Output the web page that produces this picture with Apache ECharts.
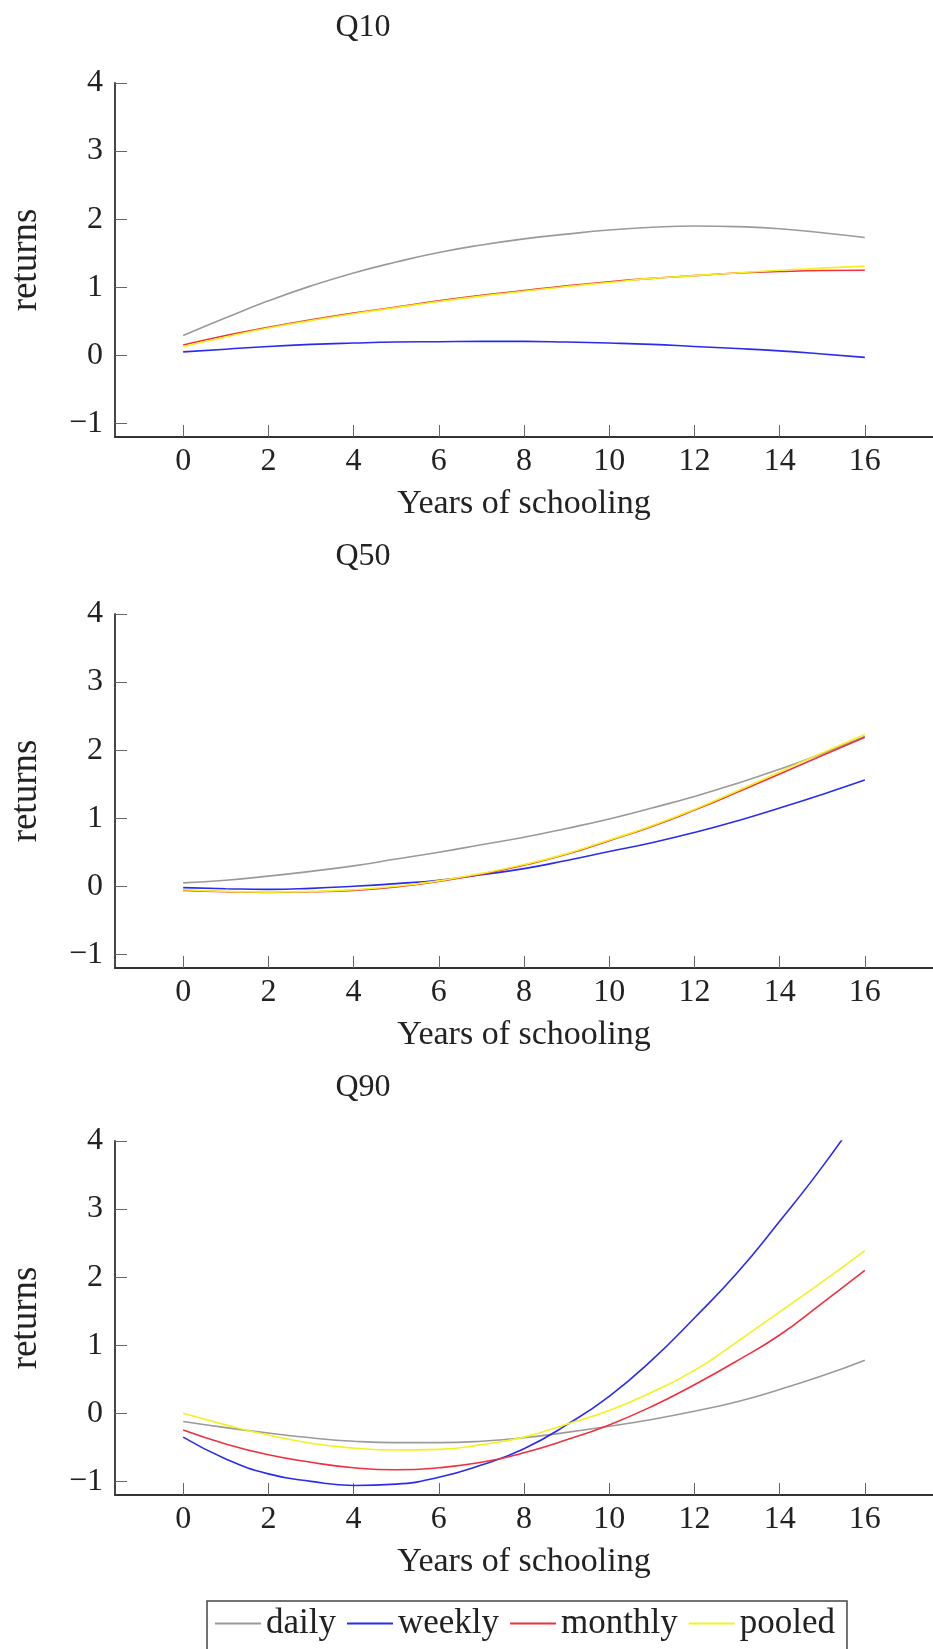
<!DOCTYPE html>
<html>
<head>
<meta charset="utf-8">
<script src="https://cdn.jsdelivr.net/npm/echarts@6/dist/echarts.min.js"></script>
<style>
  html, body { margin: 0; padding: 0; background: #fff; }
  #main { width: 933px; height: 1649px; }
</style>
</head>
<body>
<div id="main"></div>
<script>
var serif = 'Liberation Serif';

/* x values and ticks */
var years = [0, 1, 2, 3, 4, 5, 6, 7, 8, 9, 10, 11, 12, 13, 14, 15, 16];
var xTicks = [0, 2, 4, 6, 8, 10, 12, 14, 16];
var yTicks = [-1, 0, 1, 2, 3, 4];
var seriesNames = ['daily', 'weekly', 'monthly', 'pooled'];
var panelTitles = ['Q10', 'Q50', 'Q90'];

/* Q10 */
var daily10 = [0.29, 0.55, 0.80, 1.02, 1.21, 1.37, 1.51, 1.62, 1.71, 1.78, 1.84, 1.88, 1.90, 1.89, 1.86, 1.80, 1.73];
var weekly10 = [0.05, 0.09, 0.13, 0.16, 0.18, 0.195, 0.20, 0.205, 0.205, 0.195, 0.18, 0.16, 0.13, 0.10, 0.065, 0.02, -0.03];
var monthly10 = [0.15, 0.29, 0.41, 0.52, 0.62, 0.71, 0.80, 0.88, 0.95, 1.02, 1.08, 1.13, 1.17, 1.21, 1.23, 1.245, 1.25];
var pooled10 = [0.13, 0.27, 0.40, 0.51, 0.61, 0.70, 0.79, 0.87, 0.94, 1.01, 1.07, 1.13, 1.17, 1.21, 1.25, 1.28, 1.31];

/* Q50 */
var daily50 = [0.05, 0.09, 0.15, 0.22, 0.30, 0.40, 0.50, 0.61, 0.72, 0.85, 0.99, 1.15, 1.32, 1.51, 1.72, 1.95, 2.20];
var weekly50 = [-0.02, -0.035, -0.045, -0.03, 0.0, 0.04, 0.09, 0.17, 0.26, 0.38, 0.51, 0.64, 0.79, 0.96, 1.15, 1.35, 1.56];
var monthly50 = [-0.06, -0.08, -0.09, -0.08, -0.06, -0.01, 0.07, 0.18, 0.31, 0.47, 0.67, 0.88, 1.12, 1.38, 1.65, 1.92, 2.19];
var pooled50 = [-0.05, -0.075, -0.085, -0.075, -0.05, 0.0, 0.08, 0.19, 0.32, 0.48, 0.68, 0.89, 1.13, 1.40, 1.68, 1.96, 2.23];

/* Q90 */
var daily90 = [-0.12, -0.21, -0.29, -0.36, -0.41, -0.43, -0.43, -0.41, -0.36, -0.28, -0.19, -0.09, 0.03, 0.17, 0.35, 0.55, 0.78];
var weekly90 = [-0.35, -0.67, -0.89, -1.00, -1.06, -1.04, -0.94, -0.76, -0.52, -0.17, 0.25, 0.78, 1.40, 2.06, 2.82, 3.62, 4.50];
var monthly90 = [-0.245, -0.45, -0.61, -0.72, -0.80, -0.83, -0.80, -0.72, -0.58, -0.39, -0.17, 0.10, 0.42, 0.77, 1.15, 1.62, 2.10];
var pooled90 = [0.0, -0.17, -0.32, -0.44, -0.51, -0.54, -0.53, -0.46, -0.35, -0.16, 0.04, 0.31, 0.63, 1.05, 1.49, 1.93, 2.39];

var panels = [
  [daily10, weekly10, monthly10, pooled10],
  [daily50, weekly50, monthly50, pooled50],
  [daily90, weekly90, monthly90, pooled90]
];

var lineColors = { daily: '#9a9a9a', weekly: '#2b2bf0', monthly: '#f0303c', pooled: '#f2f21e' };

// layout of the three plots (px)
var gridTops = [83, 614, 1141];
var gridHeight = 354;
var titleTops = [7, 536, 1067];

var grids = [], xAxes = [], yAxes = [], titles = [], series = [];

for (var g = 0; g < 3; g++) {
  grids.push({ left: 111, top: gridTops[g], width: 833, height: gridHeight });
  titles.push({
    text: panelTitles[g], left: 358, top: titleTops[g], textAlign: 'center',
    textStyle: { fontFamily: serif, fontWeight: 'normal', fontSize: 32, color: '#222' }
  });
  xAxes.push({
    gridIndex: g, type: 'value', min: -1.6, max: 17.6,
    axisLine: { onZero: false, lineStyle: { color: '#333', width: 1.8 } },
    axisTick: { inside: true, length: 12, customValues: xTicks, lineStyle: { color: '#666', width: 1 } },
    axisLabel: { customValues: xTicks, margin: 9, fontFamily: serif, fontSize: 32, color: '#222' },
    splitLine: { show: false },
    name: 'Years of schooling', nameLocation: 'middle', nameGap: 50,
    nameTextStyle: { fontFamily: serif, fontSize: 34, color: '#222' }
  });
  yAxes.push({
    gridIndex: g, type: 'value', min: -1.2, max: 4,
    axisLine: { onZero: false, lineStyle: { color: '#333', width: 1.8 } },
    axisTick: { inside: true, length: 12, customValues: yTicks, lineStyle: { color: '#666', width: 1 } },
    axisLabel: {
      customValues: yTicks, margin: 12, fontFamily: serif, fontSize: 32, color: '#222',
      formatter: function (v) { return v < 0 ? '\u2212' + Math.abs(v) : String(v); }
    },
    splitLine: { show: false },
    name: 'returns', nameLocation: 'middle', nameGap: 70, nameRotate: 90,
    nameTextStyle: { fontFamily: serif, fontSize: 37, color: '#222' }
  });
  for (var s = 0; s < 4; s++) {
    var vals = panels[g][s];
    series.push({
      name: seriesNames[s], type: 'line',
      xAxisIndex: g, yAxisIndex: g,
      data: years.map(function (x, i) { return [x, vals[i]]; }),
      smooth: 0.5, symbol: 'none', clip: true,
      lineStyle: { color: lineColors[seriesNames[s]], width: 1.6 },
      itemStyle: { color: lineColors[seriesNames[s]] }
    });
  }
}

var option = {
  animation: false,
  backgroundColor: '#fff',
  title: titles,
  grid: grids,
  xAxis: xAxes,
  yAxis: yAxes,
  legend: {
    data: seriesNames, left: 207, top: 1601, orient: 'horizontal',
    icon: 'rect', itemWidth: 46, itemHeight: 2, itemGap: 11,
    padding: [5, 12, 12, 8],
    borderColor: '#444', borderWidth: 1.5,
    textStyle: { fontFamily: serif, fontSize: 35, color: '#222' }
  },
  series: series
};

var chart = echarts.init(document.getElementById('main'));
chart.setOption(option);
</script>
</body>
</html>
